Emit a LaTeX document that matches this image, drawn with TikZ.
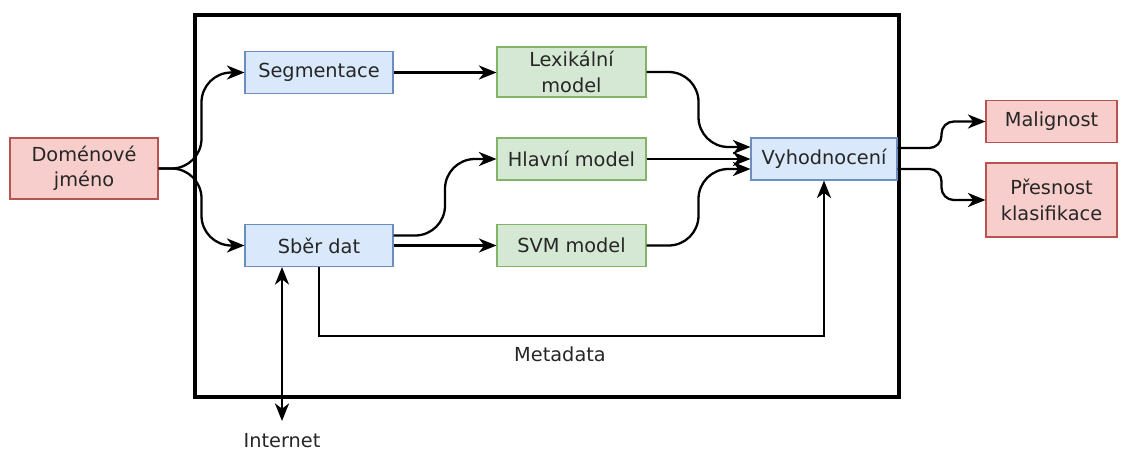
\documentclass[tikz,border=0pt]{standalone}
\usepackage{fontspec}
\setmainfont{DejaVu Sans}
\usetikzlibrary{calc, arrows.meta}

\definecolor{blueFill}{HTML}{DAE8FC}
\definecolor{blueLine}{HTML}{6C8EBF}
\definecolor{greenFill}{HTML}{D5E8D4}
\definecolor{greenLine}{HTML}{82B366}
\definecolor{redFill}{HTML}{F8CECC}
\definecolor{redLine}{HTML}{B85450}

\begin{document}
\begin{tikzpicture}[x=.02cm, y=-.02cm,
    font=\fontsize{11}{14.5}\selectfont,
    box/.style={draw, line width=.6pt, align=center, inner sep=0pt,
      minimum width=2.96cm, minimum height=.84cm, text=black!85},
    bluebox/.style={box, fill=blueFill, draw=blueLine},
    greenbox/.style={box, fill=greenFill, draw=greenLine, minimum width=2.98cm},
    redbox/.style={box, fill=redFill, draw=redLine, minimum width=2.62cm},
    tip/.tip={Stealth[length=10pt, width=8pt, inset=3pt]},
    flow/.style={-tip, line width=1.3pt, rounded corners=17pt}]
  \useasboundingbox (0,0) rectangle (1126,450);

  % frame
  \draw[line width=2.8pt] (195,15) rectangle (899,397);

  % boxes
  \node[redbox, minimum width=2.96cm, minimum height=1.22cm] (dom) at (84,168.5) {Doménové\\jméno};
  \node[bluebox] (seg) at (319,72.5) {Segmentace};
  \node[bluebox] (sber) at (319,245.5) {Sběr dat};
  \node[greenbox, minimum height=1cm] (lex) at (571.5,72) {Lexikální\\model};
  \node[greenbox] (hla) at (571.5,159) {Hlavní model};
  \node[greenbox] (svm) at (571.5,245.5) {SVM model};
  \node[bluebox, minimum width=2.92cm] (vyh) at (824,159) {Vyhodnocení};
  \node[redbox] (mal) at (1051.5,121.5) {Malignost};
  \node[redbox, minimum height=1.48cm] (pre) at (1051.5,200) {Přesnost\\klasifikace};
  \node[text=black!85] (inet) at (282,441) {Internet};
  \node[text=black!85] (meta) at (560,354) {Metadata};

  % anchors for the forked links
  \coordinate (sberUp) at ($(sber.east)+(0,-10)$);
  \coordinate (vyhA) at ($(vyh.west)+(0,-12)$);
  \coordinate (vyhC) at ($(vyh.west)+(0,10)$);
  \coordinate (vyhOutA) at ($(vyh.east)+(0,-11)$);
  \coordinate (vyhOutB) at ($(vyh.east)+(0,10)$);
  \coordinate (netEnd) at (282,421);
  \coordinate (metaCorner) at (319,336);

  % curved links
  \foreach \a/\b/\r in {dom.east/seg.west/17pt, dom.east/sber.west/17pt,
                        sberUp/hla.west/17pt, lex.east/vyhA/17pt, svm.east/vyhC/17pt,
                        vyhOutA/mal.west/7pt, vyhOutB/pre.west/7pt}{
    \coordinate (mid) at ($(\a)!.5!(\b)$);
    \draw[flow, rounded corners=\r] (\a) -- (mid |- \a) -- (mid |- \b) -- (\b);
  }

  % straight links
  \draw[flow] (seg.east) -- (seg.east -| lex.west);
  \draw[flow] (sber.east) -- (sber.east -| svm.west);
  \draw[flow] (hla.east) -- (hla.east -| vyh.west);
  \draw[flow, rounded corners=0pt] (sber.south) -- (metaCorner) -| (vyh.south);
  \draw[tip-tip, line width=1.3pt] (sber.south -| netEnd) -- (netEnd);
\end{tikzpicture}
\end{document}
